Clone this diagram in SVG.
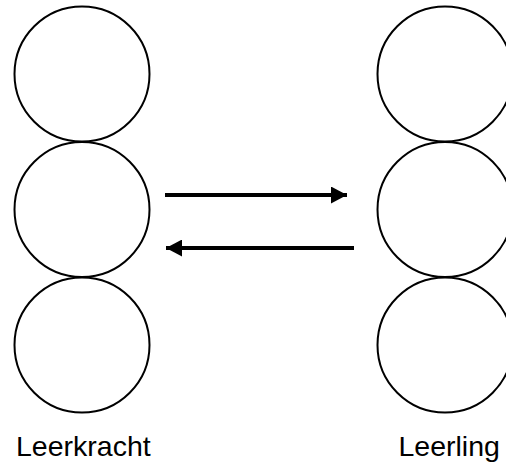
<svg xmlns="http://www.w3.org/2000/svg" width="506" height="465" viewBox="0 0 506 465">
  <style>
    .ring { fill: none; stroke: #000; stroke-width: 2; }
    .link { stroke: #000; stroke-width: 4; fill: none; }
    .label { font-family: "Liberation Sans", Arial, sans-serif; font-size: 28.5px; fill: #000; }
  </style>
  <defs>
    <marker id="head" viewBox="0 0 16 17" refX="16" refY="8.5" markerWidth="16" markerHeight="17" markerUnits="userSpaceOnUse" orient="auto">
      <path d="M0,0 L16,8.5 L0,17 Z" fill="#000"/>
    </marker>
  </defs>
  <rect width="506" height="465" fill="#fff"/>

  <!-- Teacher column -->
  <g id="leerkracht">
    <circle class="ring" cx="82" cy="74" r="67.5"/>
    <circle class="ring" cx="82" cy="209.5" r="67.5"/>
    <circle class="ring" cx="82" cy="345" r="67.5"/>
    <text class="label" x="16" y="456">Leerkracht</text>
  </g>

  <!-- Pupil column -->
  <g id="leerling">
    <circle class="ring" cx="445" cy="74" r="67.5"/>
    <circle class="ring" cx="445" cy="209.5" r="67.5"/>
    <circle class="ring" cx="445" cy="345" r="67.5"/>
    <text class="label" x="398.5" y="456">Leerling</text>
  </g>

  <!-- Exchange arrows -->
  <g id="connectors">
    <line class="link" x1="165" y1="195" x2="347" y2="195" marker-end="url(#head)"/>
    <line class="link" x1="354" y1="248" x2="166" y2="248" marker-end="url(#head)"/>
  </g>
</svg>
